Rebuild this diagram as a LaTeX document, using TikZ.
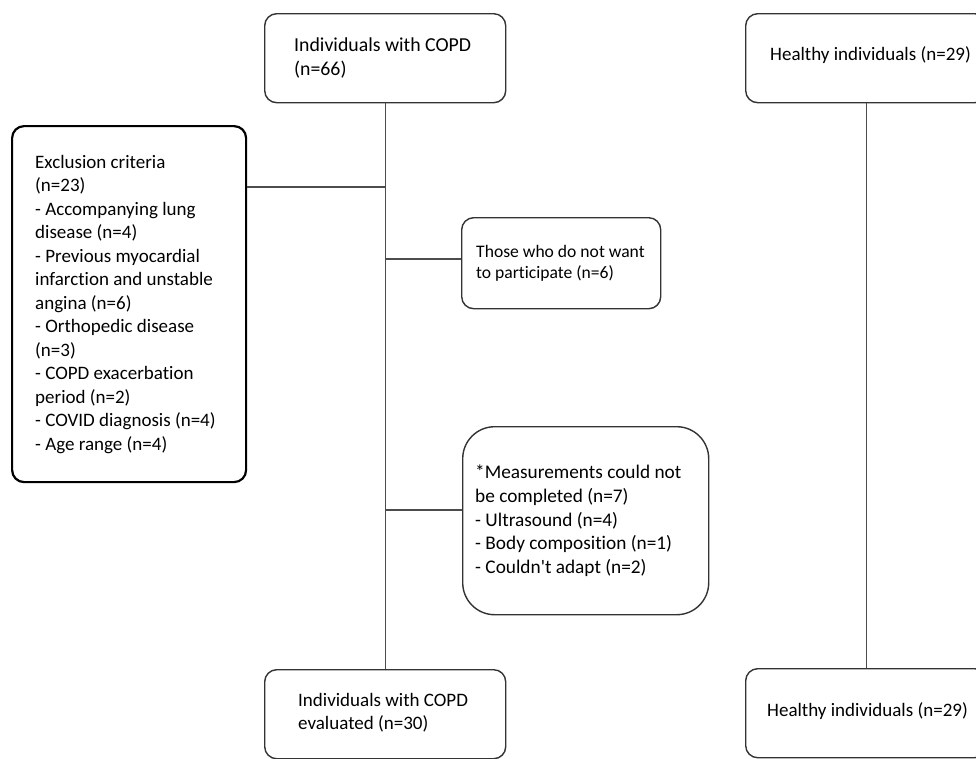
\documentclass[tikz,border=0pt]{standalone}
\usepackage{fontspec}
\setmainfont{Carlito}[Ligatures={NoCommon,TeXOff}]
\begin{document}
\begin{tikzpicture}[x=1pt,y=-1pt,
  box/.style={draw=black!80, line width=1.4pt, rounded corners=12pt, anchor=north west, inner sep=0pt},
  bigfont/.style={font=\fontsize{19.8}{23.5}\selectfont},
  smallfont/.style={font=\fontsize{17.6}{21}\selectfont},
  txt/.style={anchor=west, align=left, inner sep=0pt},
  link/.style={draw=black!70, line width=1.1pt}]
\useasboundingbox (0,0) rectangle (976,758);
\clip (0,0) rectangle (976,758);
% boxes
\node[box, minimum width=241pt, minimum height=89pt] (copd) at (264,13) {};
\node[box, minimum width=241pt, minimum height=89pt] (healthy) at (745,13) {};
\node[box, draw=black, line width=2.2pt, minimum width=234pt, minimum height=356pt] (excl) at (11,125) {};
\node[box, minimum width=199pt, minimum height=91pt] (those) at (461,217) {};
\node[box, rounded corners=32pt, minimum width=246pt, minimum height=188pt] (meas) at (462,426) {};
\node[box, minimum width=241pt, minimum height=89pt] (copdb) at (264,669) {};
\node[box, minimum width=241pt, minimum height=89pt] (healthyb) at (745,668) {};
% texts
\node[txt, bigfont] (tcopd) at ([xshift=30pt]copd.west) {Individuals with COPD\\(n=66)};
\node[txt, font=\fontsize{19}{23.5}\selectfont] (thealthy) at ([xshift=25pt,yshift=3.5pt]healthy.west) {Healthy individuals (n=29)};
\node[txt, font=\fontsize{19}{23.5}\selectfont] (texcl) at ([xshift=24pt]excl.west) {Exclusion criteria\\(n=23)\\- Accompanying lung\\disease (n=4)\\- Previous myocardial\\infarction and unstable\\angina (n=6)\\- Orthopedic disease\\(n=3)\\- COPD exacerbation\\period (n=2)\\- COVID diagnosis (n=4)\\- Age range (n=4)};
\node[txt, smallfont] (tthose) at ([xshift=15pt]those.west) {Those who do not want\\to participate (n=6)};
\node[txt, font=\fontsize{19.3}{23.7}\selectfont] (tmeas) at ([xshift=13pt]meas.west) {*Measurements could not\\be completed (n=7)\\- Ultrasound (n=4)\\- Body composition (n=1)\\- Couldn't adapt (n=2)};
\node[txt, font=\fontsize{19}{23}\selectfont] (tcopdb) at ([xshift=34pt,yshift=1pt]copdb.west) {Individuals with COPD\\evaluated (n=30)};
\node[txt, font=\fontsize{19}{23}\selectfont] (thealthyb) at ([xshift=22pt,yshift=2.5pt]healthyb.west) {Healthy individuals (n=29)};
% connectors
\coordinate (j1) at (385,187);
\coordinate (j2) at (385,259);
\coordinate (j3) at (385,510);
\draw[link] (copd.south) -- (copdb.north);
\draw[link] (healthy.south) -- (healthyb.north);
\draw[link] (j1) -- (excl.east |- j1);
\draw[link] (j2) -- (those.west |- j2);
\draw[link] (j3) -- (meas.west |- j3);
\end{tikzpicture}
\end{document}
